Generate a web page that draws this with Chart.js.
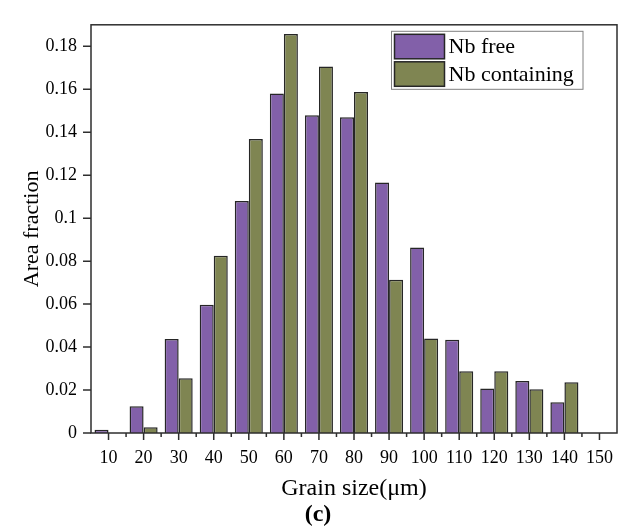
<!DOCTYPE html>
<html>
<head>
<meta charset="utf-8">
<title>Grain size distribution</title>
<script src="https://cdn.jsdelivr.net/npm/chart.js@4.4.1/dist/chart.umd.min.js"></script>
<style>
    html, body { margin: 0; padding: 0; background: #fff; }
    #wrap { width: 628px; height: 531px; }
</style>
</head>
<body>
<div id="wrap"><canvas id="grainChart" width="628" height="531"></canvas></div>
<script>
/* global Chart */

// Grain size bins (um), one group of bars per bin
var grainSizes = ['10', '20', '30', '40', '50', '60', '70', '80', '90', '100', '110', '120', '130', '140', '150'];

// Area fraction per bin
var nbFree = [0.0015, 0.0125, 0.0438, 0.0597, 0.1080, 0.1580, 0.1479, 0.1470, 0.1166, 0.0864, 0.0434, 0.0207, 0.0242, 0.0143, null];
var nbContaining = [null, 0.0027, 0.0255, 0.0825, 0.1368, 0.1857, 0.1706, 0.1587, 0.0713, 0.0440, 0.0288, 0.0287, 0.0204, 0.0236, null];

// Labelled y ticks
var yTickLabels = [0, 0.02, 0.04, 0.06, 0.08, 0.1, 0.12, 0.14, 0.16, 0.18];

var seriesNames = ['Nb free', 'Nb containing'];

(function(window, document) {
    'use strict';

    var SERIF = "'Liberation Serif', 'Times New Roman', serif";
    var colors = {
        free: '#8260a9',
        containing: '#7f8552',
        edge: '#262626',
        axis: '#2e2e2e'
    };

    /**
     * Is this y value one of the labelled (major) ticks?
     */
    function isMajorY(val) {
        var hundredths = Math.round(val * 100);
        return yTickLabels.some(function(t) { return Math.round(t * 100) === hundredths; });
    }

    /**
     * Box around the plot, major/minor ticks and the boxed legend.
     */
    var framePlugin = {
        id: 'frameAndLegend',
        afterDatasetsDraw: function(chart) {
            var ctx = chart.ctx;
            var area = chart.chartArea;
            var xs = chart.scales.x;
            var ys = chart.scales.y;
            var i, px;

            ctx.save();
            ctx.strokeStyle = colors.axis;
            ctx.lineWidth = 1.5;
            ctx.strokeRect(area.left, area.top, area.right - area.left, area.bottom - area.top);

            // x ticks: major at bin centres, minor between bins
            ctx.beginPath();
            for (i = 0; i < grainSizes.length; i++) {
                px = xs.getPixelForTick(i);
                ctx.moveTo(px, area.bottom);
                ctx.lineTo(px, area.bottom + 7);
                if (i < grainSizes.length - 1) {
                    var mid = (px + xs.getPixelForTick(i + 1)) / 2;
                    ctx.moveTo(mid, area.bottom);
                    ctx.lineTo(mid, area.bottom + 4);
                }
            }
            // y ticks
            ys.ticks.forEach(function(t) {
                var py = ys.getPixelForValue(t.value);
                var len = isMajorY(t.value) ? 8 : 4;
                ctx.moveTo(area.left, py);
                ctx.lineTo(area.left - len, py);
            });
            ctx.stroke();

            // legend
            var boxRight = area.right - 34;
            var boxTop = area.top + 6.5;
            var boxLeft = 391.5;
            var rowH = 27.5;
            ctx.lineWidth = 1;
            ctx.strokeStyle = '#808080';
            ctx.fillStyle = '#fff';
            ctx.fillRect(boxLeft, boxTop, boxRight - boxLeft, rowH * 2 + 3);
            ctx.strokeRect(boxLeft, boxTop, boxRight - boxLeft, rowH * 2 + 3);

            ctx.font = '22px ' + SERIF;
            ctx.textBaseline = 'middle';
            chart.data.datasets.forEach(function(ds, k) {
                var y0 = boxTop + 3 + k * rowH;
                ctx.fillStyle = ds.backgroundColor;
                ctx.fillRect(boxLeft + 3, y0, 50, 24.5);
                ctx.strokeStyle = colors.edge;
                ctx.lineWidth = 1.5;
                ctx.strokeRect(boxLeft + 3, y0, 50, 24.5);
                ctx.fillStyle = '#000';
                ctx.fillText(ds.label, boxLeft + 57, y0 + 13);
            });
            ctx.restore();
        }
    };

    function initChart() {
        var canvas = document.getElementById('grainChart');
        if (!canvas || typeof Chart === 'undefined') {
            return;
        }

        Chart.defaults.font.family = SERIF;
        Chart.defaults.color = '#000';

        new Chart(canvas.getContext('2d'), {
            type: 'bar',
            data: {
                labels: grainSizes,
                datasets: [{
                    label: seriesNames[0],
                    data: nbFree,
                    backgroundColor: colors.free,
                    borderColor: colors.edge,
                    borderWidth: 1.5
                }, {
                    label: seriesNames[1],
                    data: nbContaining,
                    backgroundColor: colors.containing,
                    borderColor: colors.edge,
                    borderWidth: 1.5
                }]
            },
            options: {
                responsive: false,
                animation: false,
                categoryPercentage: 0.8,
                barPercentage: 1.0,
                layout: { padding: { left: 19, right: 11, top: 9, bottom: 4 } },
                plugins: {
                    legend: { display: false },
                    tooltip: { enabled: false },
                    subtitle: {
                        display: true,
                        position: 'bottom',
                        text: '(c)',
                        color: '#000',
                        font: { size: 24, weight: 'bold', lineHeight: 1 },
                        padding: { top: 0, bottom: 0 }
                    }
                },
                scales: {
                    x: {
                        offset: true,
                        grid: { display: false, drawTicks: false },
                        border: { display: false },
                        ticks: { font: { size: 18 }, padding: 14, maxRotation: 0, autoSkip: false },
                        title: {
                            display: true,
                            text: 'Grain size(\u03bcm)',
                            font: { size: 24 },
                            padding: { top: 0, bottom: 0 }
                        },
                        afterFit: function(scale) { scale.height = 70; }
                    },
                    y: {
                        min: 0,
                        max: 0.19,
                        grid: { display: false, drawTicks: false },
                        border: { display: false },
                        ticks: {
                            stepSize: 0.01,
                            font: { size: 18 },
                            padding: 14,
                            callback: function(val) {
                                return isMajorY(val) ? String(Math.round(val * 100) / 100) : '';
                            }
                        },
                        title: {
                            display: true,
                            text: 'Area fraction',
                            font: { size: 22 },
                            padding: { top: 0, bottom: 0 }
                        },
                        afterFit: function(scale) { scale.width = 72; }
                    }
                }
            },
            plugins: [framePlugin]
        });
    }

    if (document.readyState === 'loading') {
        document.addEventListener('DOMContentLoaded', initChart);
    } else {
        initChart();
    }

})(window, document);
</script>
</body>
</html>
